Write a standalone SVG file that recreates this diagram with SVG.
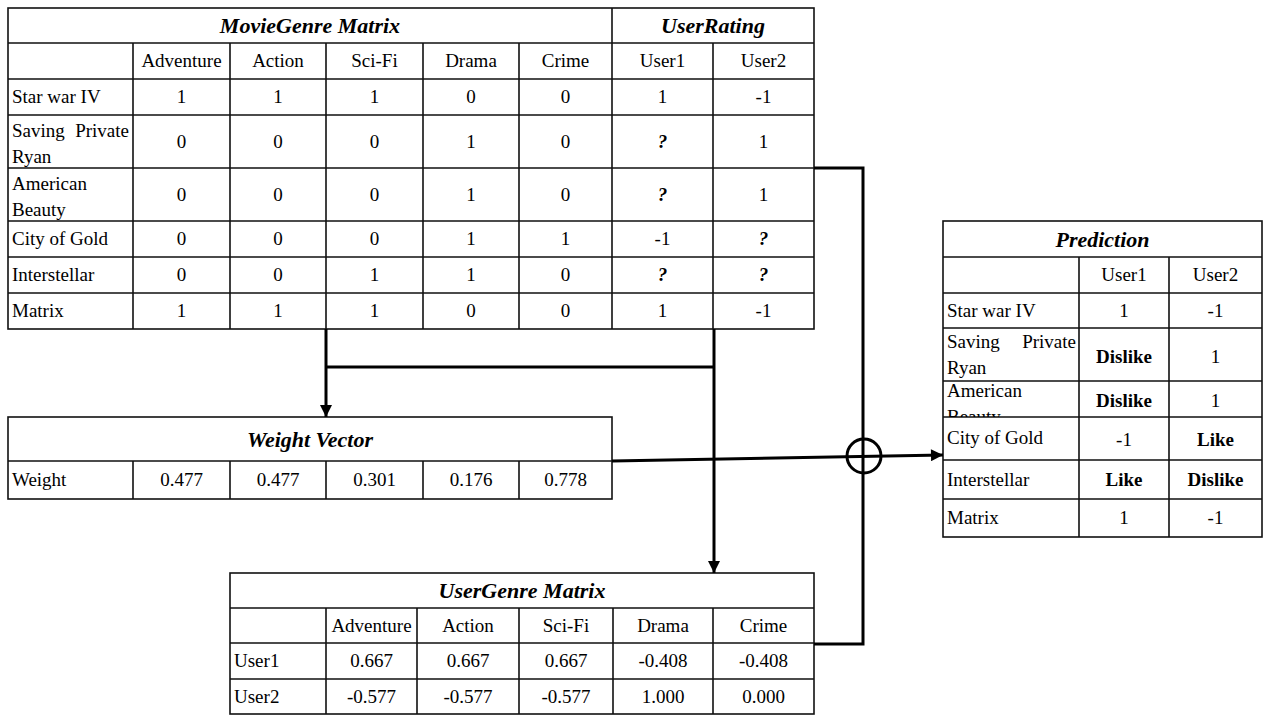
<svg xmlns="http://www.w3.org/2000/svg" width="1263" height="715" viewBox="0 0 1263 715">
<style>
text{font-family:"Liberation Serif","Times New Roman",serif;font-size:19px;fill:#000}
.c{text-anchor:middle}
.e{text-anchor:end}
.ti{font-weight:bold;font-style:italic;font-size:22px;text-anchor:middle}
.q{font-weight:bold;font-style:italic;text-anchor:middle}
.b{font-weight:bold;text-anchor:middle}
.grid{fill:#fff;stroke:#111;stroke-width:1.6}
.ln{fill:none;stroke:#111;stroke-width:1.6}
.con{fill:none;stroke:#000;stroke-width:3}
</style>
<defs>
<marker id="arr" viewBox="0 0 10 10" refX="10" refY="5" markerWidth="13" markerHeight="12" markerUnits="userSpaceOnUse" orient="auto"><path d="M0,0 L10,5 L0,10 z" fill="#000"/></marker>
<clipPath id="clipAB"><rect x="943" y="381" width="136" height="36"/></clipPath>
</defs>
<rect width="1263" height="715" fill="#fff"/>

<g id="movie-genre">
<rect class="grid" x="8" y="8" width="806" height="321"/>
<path class="ln" d="M8,43H814M8,79H814M8,115H814M8,168H814M8,221H814M8,257H814M8,293H814M133,43V329M230,43V329M326,43V329M423,43V329M519,43V329M612,8V329M713,43V329"/>
<text class="ti" x="310" y="33">MovieGenre Matrix</text>
<text class="ti" x="713" y="33">UserRating</text>
<text class="c" x="181.5" y="67">Adventure</text><text class="c" x="278" y="67">Action</text><text class="c" x="374.5" y="67">Sci-Fi</text><text class="c" x="471" y="67">Drama</text><text class="c" x="565.5" y="67">Crime</text><text class="c" x="662.5" y="67">User1</text><text class="c" x="763.5" y="67">User2</text>
<text x="12" y="103">Star war IV</text>
<text class="c" x="181.5" y="103">1</text><text class="c" x="278" y="103">1</text><text class="c" x="374.5" y="103">1</text><text class="c" x="471" y="103">0</text><text class="c" x="565.5" y="103">0</text><text class="c" x="662.5" y="103">1</text><text class="c" x="763.5" y="103">-1</text>
<text x="12" y="137">Saving</text><text class="e" x="129" y="137">Private</text><text x="12" y="163">Ryan</text>
<text class="c" x="181.5" y="148">0</text><text class="c" x="278" y="148">0</text><text class="c" x="374.5" y="148">0</text><text class="c" x="471" y="148">1</text><text class="c" x="565.5" y="148">0</text><text class="q" x="662.5" y="148">?</text><text class="c" x="763.5" y="148">1</text>
<text x="12" y="190">American</text><text x="12" y="216">Beauty</text>
<text class="c" x="181.5" y="201">0</text><text class="c" x="278" y="201">0</text><text class="c" x="374.5" y="201">0</text><text class="c" x="471" y="201">1</text><text class="c" x="565.5" y="201">0</text><text class="q" x="662.5" y="201">?</text><text class="c" x="763.5" y="201">1</text>
<text x="12" y="245">City of Gold</text>
<text class="c" x="181.5" y="245">0</text><text class="c" x="278" y="245">0</text><text class="c" x="374.5" y="245">0</text><text class="c" x="471" y="245">1</text><text class="c" x="565.5" y="245">1</text><text class="c" x="662.5" y="245">-1</text><text class="q" x="763.5" y="245">?</text>
<text x="12" y="281">Interstellar</text>
<text class="c" x="181.5" y="281">0</text><text class="c" x="278" y="281">0</text><text class="c" x="374.5" y="281">1</text><text class="c" x="471" y="281">1</text><text class="c" x="565.5" y="281">0</text><text class="q" x="662.5" y="281">?</text><text class="q" x="763.5" y="281">?</text>
<text x="12" y="317">Matrix</text>
<text class="c" x="181.5" y="317">1</text><text class="c" x="278" y="317">1</text><text class="c" x="374.5" y="317">1</text><text class="c" x="471" y="317">0</text><text class="c" x="565.5" y="317">0</text><text class="c" x="662.5" y="317">1</text><text class="c" x="763.5" y="317">-1</text>
</g>

<g id="weight-vector">
<rect class="grid" x="8" y="417" width="604" height="82"/>
<path class="ln" d="M8,461H612M133,461V499M230,461V499M326,461V499M423,461V499M519,461V499"/>
<text class="ti" x="310" y="447">Weight Vector</text>
<text x="12" y="486">Weight</text>
<text class="c" x="181.5" y="486">0.477</text><text class="c" x="278" y="486">0.477</text><text class="c" x="374.5" y="486">0.301</text><text class="c" x="471" y="486">0.176</text><text class="c" x="565.5" y="486">0.778</text>
</g>

<g id="user-genre">
<rect class="grid" x="230" y="573" width="584" height="141"/>
<path class="ln" d="M230,608H814M230,643H814M230,679H814M326,608V714M417,608V714M519,608V714M613,608V714M713,608V714"/>
<text class="ti" x="522" y="598">UserGenre Matrix</text>
<text class="c" x="371.5" y="632">Adventure</text><text class="c" x="468" y="632">Action</text><text class="c" x="566" y="632">Sci-Fi</text><text class="c" x="663" y="632">Drama</text><text class="c" x="763.5" y="632">Crime</text>
<text x="234" y="667">User1</text>
<text class="c" x="371.5" y="667">0.667</text><text class="c" x="468" y="667">0.667</text><text class="c" x="566" y="667">0.667</text><text class="c" x="663" y="667">-0.408</text><text class="c" x="763.5" y="667">-0.408</text>
<text x="234" y="703">User2</text>
<text class="c" x="371.5" y="703">-0.577</text><text class="c" x="468" y="703">-0.577</text><text class="c" x="566" y="703">-0.577</text><text class="c" x="663" y="703">1.000</text><text class="c" x="763.5" y="703">0.000</text>
</g>

<g id="prediction">
<rect class="grid" x="943" y="221" width="319" height="316"/>
<path class="ln" d="M943,257H1262M943,293H1262M943,328H1262M943,381H1262M943,417H1262M943,460H1262M943,499H1262M1079,257V537M1169,257V537"/>
<text class="ti" x="1102.5" y="247">Prediction</text>
<text class="c" x="1124" y="281">User1</text><text class="c" x="1215.5" y="281">User2</text>
<text x="947" y="316.5">Star war IV</text><text class="c" x="1124" y="316.5">1</text><text class="c" x="1215.5" y="316.5">-1</text>
<text x="947" y="348">Saving</text><text class="e" x="1076" y="348">Private</text><text x="947" y="374">Ryan</text>
<text class="b" x="1124" y="363">Dislike</text><text class="c" x="1215.5" y="363">1</text>
<g clip-path="url(#clipAB)"><text x="947" y="397">American</text><text x="947" y="423">Beauty</text></g>
<text class="b" x="1124" y="407">Dislike</text><text class="c" x="1215.5" y="407">1</text>
<text x="947" y="444">City of Gold</text><text class="c" x="1124" y="446">-1</text><text class="b" x="1215.5" y="446">Like</text>
<text x="947" y="486">Interstellar</text><text class="b" x="1124" y="486">Like</text><text class="b" x="1215.5" y="486">Dislike</text>
<text x="947" y="524">Matrix</text><text class="c" x="1124" y="524">1</text><text class="c" x="1215.5" y="524">-1</text>
</g>

<g id="connectors">
<path class="con" d="M326,329V417" marker-end="url(#arr)"/>
<path class="con" d="M326,367H714"/>
<path class="con" d="M714,329V573" marker-end="url(#arr)"/>
<path class="con" d="M814,168H863V644H814"/>
<path class="con" d="M612,461L943,455" marker-end="url(#arr)"/>
<circle cx="864" cy="456" r="17" fill="none" stroke="#000" stroke-width="3"/>
</g>
</svg>
